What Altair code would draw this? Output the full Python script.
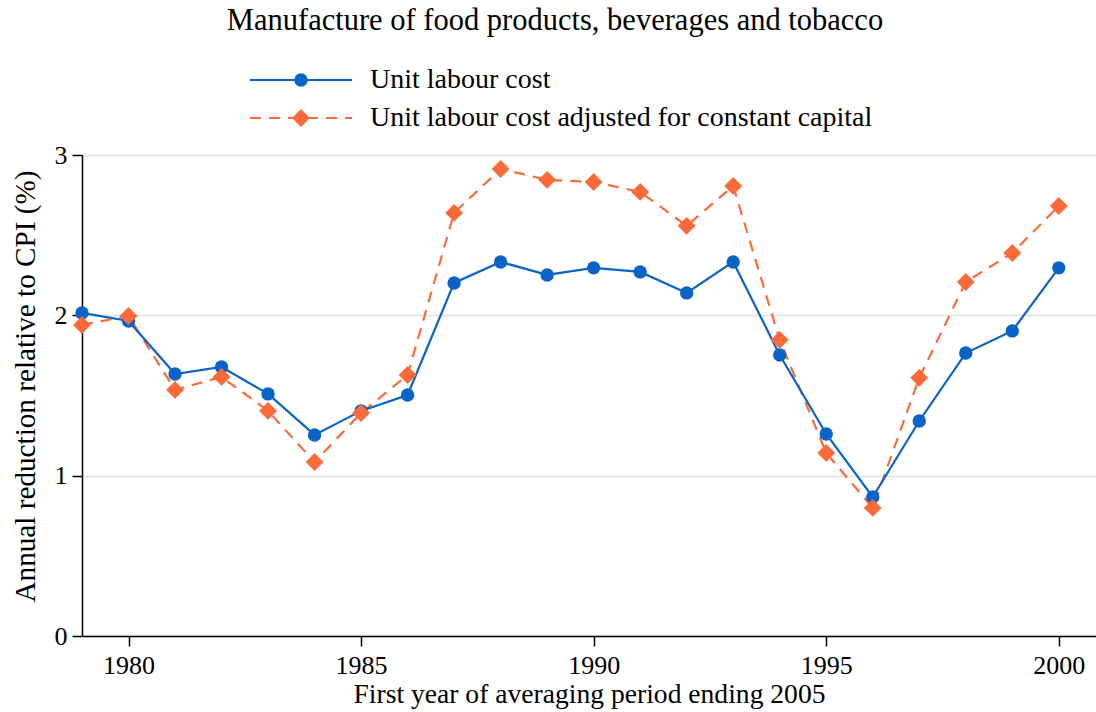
import altair as alt
import pandas as pd

years = list(range(1979, 2001))
ulc = [2.015, 1.965, 1.634, 1.678, 1.51, 1.254, 1.404, 1.503, 2.202, 2.333, 2.252,
       2.296, 2.271, 2.14, 2.333, 1.753, 1.26, 0.867, 1.341, 1.765, 1.903, 2.296]
ulc_adj = [1.94, 1.996, 1.535, 1.616, 1.404, 1.085, 1.391, 1.628, 2.639, 2.913, 2.845,
           2.832, 2.77, 2.558, 2.807, 1.847, 1.142, 0.799, 1.61, 2.208, 2.389, 2.682]
series_names = ["Unit labour cost", "Unit labour cost adjusted for constant capital"]
colors = ["#0a64c8", "#fd6a39"]
chart_title = "Manufacture of food products, beverages and tobacco"
x_ticks = [1980, 1985, 1990, 1995, 2000]
y_ticks = [0, 1, 2, 3]

rows = []
for y, a, b in zip(years, ulc, ulc_adj):
    rows.append({"year": y, "value": a, "series": series_names[0]})
    rows.append({"year": y, "value": b, "series": series_names[1]})
df = pd.DataFrame(rows)

FONT = "Liberation Serif"
W, H = 1014, 481
CIRCLE_SIZE, DIAMOND_SIZE = 180, 320

xenc = alt.X("year:Q", scale=alt.Scale(domain=[1979, 2000.8], nice=False, zero=False),
             axis=alt.Axis(values=x_ticks, format="d", grid=False,
                           title="First year of averaging period ending 2005"))
yenc = alt.Y("value:Q", scale=alt.Scale(domain=[0, 3], nice=False),
             axis=alt.Axis(values=y_ticks, grid=True, titleY=231,
                           title="Annual reduction relative to CPI (%)"))

base = alt.Chart(df).encode(x=xenc, y=yenc)

line_adj = base.transform_filter(alt.datum.series == series_names[1]).mark_line(
    color=colors[1], strokeWidth=2.2, strokeDash=[11, 8])
line_ulc = base.transform_filter(alt.datum.series == series_names[0]).mark_line(
    color=colors[0], strokeWidth=2.2)
pts_ulc = base.transform_filter(alt.datum.series == series_names[0]).mark_point(
    shape="circle", filled=True, color=colors[0], size=CIRCLE_SIZE, opacity=1)
pts_adj = base.transform_filter(alt.datum.series == series_names[1]).mark_point(
    shape="diamond", filled=True, color=colors[1], size=DIAMOND_SIZE, opacity=1)

one = pd.DataFrame({"k": [0]})
leg_layers = []
for i, (name, col) in enumerate(zip(series_names, colors)):
    yy = -75 + i * 38
    dash = [1, 0] if i == 0 else [11, 8]
    leg_layers.append(alt.Chart(one).mark_rule(color=col, strokeWidth=2.2, strokeDash=dash).encode(
        x=alt.value(168), x2=alt.value(270), y=alt.value(yy)))
    leg_layers.append(alt.Chart(one).mark_point(
        shape="circle" if i == 0 else "diamond", filled=True, color=col,
        size=CIRCLE_SIZE if i == 0 else DIAMOND_SIZE, opacity=1).encode(
        x=alt.value(219), y=alt.value(yy)))
    leg_layers.append(alt.Chart(one).mark_text(
        align="left", baseline="middle", font=FONT, fontSize=28, color="black").encode(
        x=alt.value(288), y=alt.value(yy), text=alt.value(name)))

title_layer = alt.Chart(one).mark_text(
    align="center", baseline="middle", font=FONT, fontSize=30.5, color="black").encode(
    x=alt.value(473), y=alt.value(-134), text=alt.value(chart_title))

chart = alt.layer(line_adj, line_ulc, pts_ulc, pts_adj, *leg_layers, title_layer).properties(
    width=W, height=H,
    autosize=alt.AutoSizeParams(type="none"),
    padding={"left": 82, "top": 155, "right": 0, "bottom": 76},
).configure_view(stroke=None).configure_axis(
    labelFont=FONT, labelFontSize=26, labelColor="black",
    titleFont=FONT, titleFontWeight="normal", titleColor="black",
    domainColor="black", domainWidth=1.5, tickColor="black", tickWidth=1.5,
    gridColor="#e6e6e6", gridWidth=2, tickSize=10,
).configure_axisX(labelPadding=6, titlePadding=2, titleFontSize=27.6
).configure_axisY(labelPadding=5, titlePadding=14, titleFontSize=29.2)

chart.save("out.html", embed_options={"renderer": "svg", "actions": False})
